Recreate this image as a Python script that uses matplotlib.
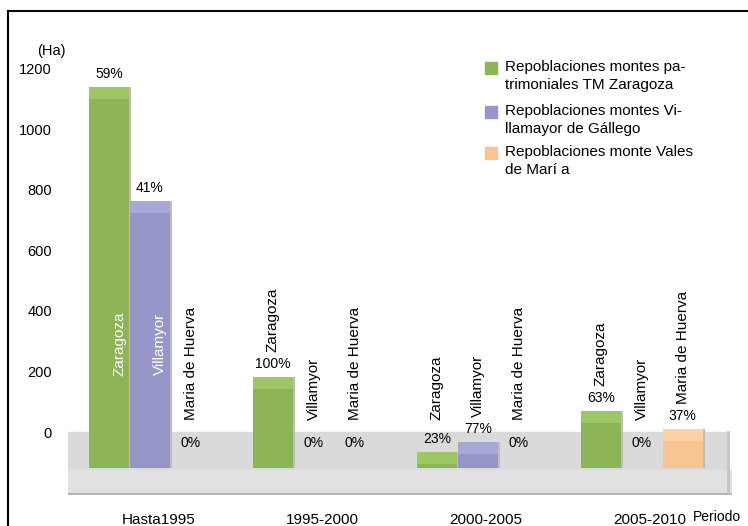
import numpy as np
import matplotlib.pyplot as plt
from matplotlib.patches import Rectangle
from matplotlib.lines import Line2D

plt.rcParams['font.family'] = ['Liberation Sans', 'DejaVu Sans']

# Datos (ha repobladas por periodo y zona)
periodos = ['Hasta1995', '1995-2000', '2000-2005', '2005-2010']
zonas = ['Zaragoza', 'Villamyor', 'Maria de Huerva']
zaragoza = [1217, 260, 14, 148]
villamayor = [841, 0, 46, 0]
maria_huerva = [0, 0, 0, 88]
leyenda = ['Repoblaciones montes pa-\ntrimoniales TM Zaragoza',
           'Repoblaciones montes Vi-\nllamayor de Gállego',
           'Repoblaciones monte Vales\nde Marí a']
colores = ['#8DB457', '#9696C8', '#F8C491']
colores_top = ['#9CC764', '#A7A7D8', '#FBD1A6']

series = [zaragoza, villamayor, maria_huerva]
totales = np.sum(series, axis=0)

W, H = 748, 526
fig = plt.figure(figsize=(W / 100, H / 100), dpi=100)
# ejes colocados en pixeles de la figura
ax = fig.add_axes([68 / W, (H - 495) / H, 664 / W, 484 / H])
ax.set_xlim(-1.0, 15.2)
ax.set_ylim(-208, 1390)
for s in ax.spines.values():
    s.set_visible(False)

px = 0.3028          # pixeles por unidad en y
suelo = -119         # base frontal de las barras (efecto 3D)
tapa = 12 / px       # grosor de la cara superior

# suelo gris
ax.add_patch(Rectangle((-1.0, -125), 16.1, 125, color='#DADADA', zorder=0))
ax.add_patch(Rectangle((-1.0, -206), 16.2, 81, color='#E1E1E1', zorder=0))
ax.plot([-1.0, 15.2], [-206, -206], color='#B5B5B5', lw=1.5, zorder=1)
ax.plot([15.1, 15.1], [0, -206], color='#C4C4C4', lw=2, zorder=1)

for j, vals in enumerate(series):
    for i, v in enumerate(vals):
        x = 4 * i + j
        alto = suelo + tapa + v
        if v > 0:
            ax.bar(x, v, bottom=suelo, width=0.98, color=colores[j], zorder=3)
            ax.bar(x, tapa, bottom=suelo + v, width=0.98, color=colores_top[j], zorder=3)
            ax.bar(x + 0.51, v + tapa, bottom=suelo, width=0.05, color='#BDBDBD', zorder=2)
        pct = round(100 * v / totales[i])
        ax.annotate(f'{pct}%', (x, alto), xytext=(0, 4.5), textcoords='offset points',
                    ha='center', va='bottom', fontsize=10, zorder=5)
        if v > 500:
            ax.text(x + 0.25, 290, zonas[j], rotation=90, ha='center', va='center',
                    color='white', fontsize=11, zorder=5)
        else:
            y_nombre = max(alto + 25 / px, 40)
            ax.text(x, y_nombre, zonas[j], rotation=90, ha='center', va='bottom',
                    fontsize=11, zorder=5)

ax.set_yticks(np.arange(0, 1201, 200))
ax.set_xticks([4 * i + 1.2 for i in range(len(periodos))])
ax.set_xticklabels(periodos, fontsize=11)
ax.tick_params(axis='y', length=0, pad=11.5, labelsize=10.5)
ax.tick_params(axis='x', length=0, pad=13)

fig.text(37 / W, 1 - 51 / H, '(Ha)', fontsize=10.5, va='center')
fig.text(717 / W, 1 - 517 / H, 'Periodo', fontsize=10, ha='center', va='center')

# leyenda manual (cuadro alineado con la primera línea)
ley_y = [68, 112, 153]
for k, txt in enumerate(leyenda):
    y0 = ley_y[k]
    fig.add_artist(Rectangle((485 / W, 1 - (y0 + 6) / H), 12 / W, 12 / H,
                             color=colores[k], transform=fig.transFigure))
    fig.text(505 / W, 1 - (y0 - 8) / H, txt, fontsize=11, va='top', linespacing=1.35)

# marco
fig.add_artist(Line2D([8 / W, 8 / W], [0, 1 - 11 / H], color='black', lw=1.5,
                      transform=fig.transFigure))
fig.add_artist(Line2D([8 / W, 1], [1 - 11 / H, 1 - 11 / H], color='black', lw=1.5,
                      transform=fig.transFigure))

fig.savefig('out.png', dpi=100)
